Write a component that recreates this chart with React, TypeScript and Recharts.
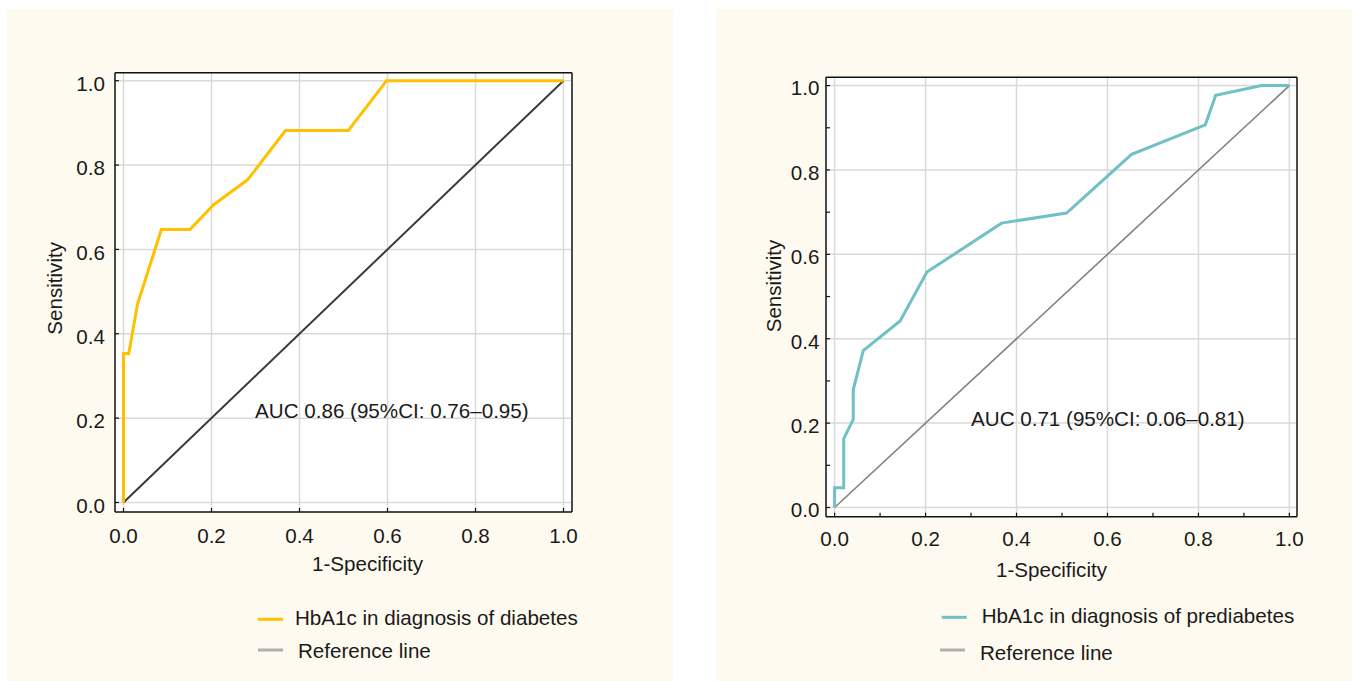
import {
  LineChart,
  Line,
  XAxis,
  YAxis,
  CartesianGrid,
  Legend,
  ReferenceDot,
} from "recharts";

// ROC points: x = 1-specificity, y = sensitivity
const diabetesFpr = [0, 0, 0.012, 0.032, 0.086, 0.151, 0.205, 0.282, 0.368, 0.511, 0.598, 1];
const diabetesTpr = [0, 0.353, 0.353, 0.471, 0.647, 0.647, 0.706, 0.765, 0.882, 0.882, 1, 1];

const prediabetesFpr = [
  0, 0, 0.02, 0.02, 0.041, 0.041, 0.063, 0.144, 0.203, 0.367, 0.51, 0.653, 0.815, 0.838, 0.939, 1,
];
const prediabetesTpr = [
  0, 0.047, 0.047, 0.163, 0.209, 0.279, 0.372, 0.442, 0.558, 0.674, 0.698, 0.837, 0.907, 0.977, 1, 1,
];

const referenceFpr = [0, 1];
const referenceTpr = [0, 1];

const majorTicks = [0, 0.2, 0.4, 0.6, 0.8, 1];
const minorTicks = [0, 0.1, 0.2, 0.3, 0.4, 0.5, 0.6, 0.7, 0.8, 0.9, 1];

const FONT = '"Liberation Sans", Arial, sans-serif';
const FS = 20.6;
const INK = "#1a1a1a";
const CREAM = "#fffaf0";

const toPoints = (xs: number[], ys: number[]) => xs.map((x, i) => ({ x, y: ys[i] }));

interface LegendRow {
  label: string;
  color: string;
  swatchX: number;
  swatchY: number;
  textX: number;
  baseline: number;
}

function RocLegend({ rows }: { rows: LegendRow[] }) {
  return (
    <svg width={400} height={80} style={{ display: "block", overflow: "visible" }}>
      {rows.map((r) => (
        <g key={r.label}>
          <line
            x1={r.swatchX}
            x2={r.swatchX + 25}
            y1={r.swatchY}
            y2={r.swatchY}
            stroke={r.color}
            strokeWidth={3}
          />
          <text x={r.textX} y={r.baseline} fontSize={FS} fill={INK} fontFamily={FONT}>
            {r.label}
          </text>
        </g>
      ))}
    </svg>
  );
}

interface PanelProps {
  left: number;
  width: number;
  curve: { x: number; y: number }[];
  curveColor: string;
  curveName: string;
  diagColor: string;
  diagWidth: number;
  ticks: number[];
  margin: { top: number; right: number; bottom: number; left: number };
  padX: { left: number; right: number };
  padY: { top: number; bottom: number };
  xTickMargin: number;
  yTickMargin: number;
  tickDy: number;
  xLabelHeight: number;
  xLabelDx: number;
  yLabelOffset: number;
  yLabelDy: number;
  auc: string;
  aucAt: { x: number; y: number };
  legendPos: { left: number; top: number };
  legendRows: LegendRow[];
}

function RocPanel(p: PanelProps) {
  const H = 672;
  const fmt = (v: number) => (Math.round(v * 10) % 2 === 0 ? v.toFixed(1) : "");
  const tickStyle = { fill: INK, fontSize: FS, fontFamily: FONT };
  const frame = { stroke: "#111", strokeWidth: 1.5 };
  const tickMark = { stroke: "#111", strokeWidth: 1.2 };
  return (
    <div style={{ position: "absolute", left: p.left, top: 9, width: p.width, height: H, background: CREAM }}>
      <LineChart width={p.width} height={H} margin={p.margin}>
        <CartesianGrid
          xAxisId="b"
          yAxisId="l"
          stroke="#d9d9d9"
          strokeWidth={1.5}
          fill="#ffffff"
          fillOpacity={1}
          verticalValues={majorTicks}
          horizontalValues={majorTicks}
        />
        <XAxis
          xAxisId="b"
          type="number"
          dataKey="x"
          domain={[0, 1]}
          ticks={p.ticks}
          interval={0}
          tickFormatter={fmt}
          padding={p.padX}
          height={p.xLabelHeight}
          tickSize={-4}
          tickMargin={p.xTickMargin}
          tick={tickStyle}
          axisLine={frame}
          tickLine={tickMark}
          label={{
            value: "1-Specificity",
            position: "insideBottom",
            offset: 0,
            dx: p.xLabelDx,
            fill: INK,
            fontSize: FS,
            fontFamily: FONT,
          }}
        />
        <XAxis
          xAxisId="t"
          orientation="top"
          type="number"
          dataKey="x"
          domain={[0, 1]}
          ticks={p.ticks}
          interval={0}
          padding={p.padX}
          height={1}
          tickSize={-4}
          tick={false}
          axisLine={frame}
          tickLine={tickMark}
        />
        <YAxis
          yAxisId="l"
          type="number"
          domain={[0, 1]}
          ticks={p.ticks}
          interval={0}
          tickFormatter={fmt}
          padding={p.padY}
          width={60}
          tickSize={-4}
          tickMargin={p.yTickMargin}
          tick={{ ...tickStyle, dy: p.tickDy }}
          axisLine={frame}
          tickLine={tickMark}
          label={{
            value: "Sensitivity",
            angle: -90,
            position: "insideLeft",
            offset: p.yLabelOffset,
            dy: p.yLabelDy,
            fill: INK,
            fontSize: FS,
            fontFamily: FONT,
            style: { textAnchor: "middle" },
          }}
        />
        <YAxis
          yAxisId="r"
          orientation="right"
          type="number"
          domain={[0, 1]}
          ticks={p.ticks}
          interval={0}
          padding={p.padY}
          width={1}
          tickSize={-4}
          tick={false}
          axisLine={frame}
          tickLine={tickMark}
        />
        <Line
          xAxisId="t"
          yAxisId="r"
          data={toPoints(referenceFpr, referenceTpr)}
          dataKey="y"
          name="Reference line"
          type="linear"
          stroke={p.diagColor}
          strokeWidth={p.diagWidth}
          dot={false}
          activeDot={false}
          isAnimationActive={false}
        />
        <Line
          xAxisId="b"
          yAxisId="l"
          data={p.curve}
          dataKey="y"
          name={p.curveName}
          type="linear"
          stroke={p.curveColor}
          strokeWidth={3}
          strokeLinejoin="miter"
          dot={false}
          activeDot={false}
          isAnimationActive={false}
        />
        <ReferenceDot
          xAxisId="b"
          yAxisId="l"
          x={p.aucAt.x}
          y={p.aucAt.y}
          r={0}
          fill="none"
          stroke="none"
          ifOverflow="visible"
          label={{ value: p.auc, position: "right", offset: 0, fill: INK, fontSize: FS, fontFamily: FONT }}
        />
        <Legend
          layout="horizontal"
          verticalAlign="middle"
          align="center"
          wrapperStyle={{ left: p.legendPos.left, top: p.legendPos.top, width: 400, height: 80 }}
          content={() => <RocLegend rows={p.legendRows} />}
        />
      </LineChart>
    </div>
  );
}

export default function App() {
  return (
    <div
      style={{
        position: "absolute",
        left: 0,
        top: 0,
        width: 1359,
        height: 681,
        overflow: "hidden",
        background: "#ffffff",
        fontFamily: FONT,
      }}
    >
      <RocPanel
        left={7}
        width={666}
        curve={toPoints(diabetesFpr, diabetesTpr)}
        curveColor="#ffc000"
        curveName="HbA1c in diagnosis of diabetes"
        diagColor="#3a3a3a"
        diagWidth={2}
        ticks={majorTicks}
        margin={{ top: 62.7, right: 100, bottom: 110, left: 48 }}
        padX={{ left: 8.5, right: 8.5 }}
        padY={{ top: 8, bottom: 9.5 }}
        xTickMargin={20}
        yTickMargin={14}
        tickDy={3}
        xLabelHeight={59}
        xLabelDx={24}
        yLabelOffset={0}
        yLabelDy={-4}
        auc="AUC 0.86 (95%CI: 0.76–0.95)"
        aucAt={{ x: 0.299, y: 0.218 }}
        legendPos={{ left: 251, top: 591 }}
        legendRows={[
          { label: "HbA1c in diagnosis of diabetes", color: "#ffc000", swatchX: 0, swatchY: 19.3, textX: 37, baseline: 25 },
          { label: "Reference line", color: "#b0b0b0", swatchX: 0, swatchY: 50, textX: 40, baseline: 58.3 },
        ]}
      />
      <RocPanel
        left={716}
        width={636}
        curve={toPoints(prediabetesFpr, prediabetesTpr)}
        curveColor="#6fc1c6"
        curveName="HbA1c in diagnosis of prediabetes"
        diagColor="#808080"
        diagWidth={1.6}
        ticks={minorTicks}
        margin={{ top: 67.3, right: 54, bottom: 104.3, left: 50 }}
        padX={{ left: 8.6, right: 7.6 }}
        padY={{ top: 8.3, bottom: 9.2 }}
        xTickMargin={19}
        yTickMargin={10.5}
        tickDy={2.5}
        xLabelHeight={60}
        xLabelDx={-10}
        yLabelOffset={8}
        yLabelDy={-11}
        auc="AUC 0.71 (95%CI: 0.06–0.81)"
        aucAt={{ x: 0.3, y: 0.21 }}
        legendPos={{ left: 224, top: 591 }}
        legendRows={[
          { label: "HbA1c in diagnosis of prediabetes", color: "#6fc1c6", swatchX: 1.7, swatchY: 17.3, textX: 41.7, baseline: 23.3 },
          { label: "Reference line", color: "#b0b0b0", swatchX: 0, swatchY: 50, textX: 40, baseline: 60 },
        ]}
      />
    </div>
  );
}
